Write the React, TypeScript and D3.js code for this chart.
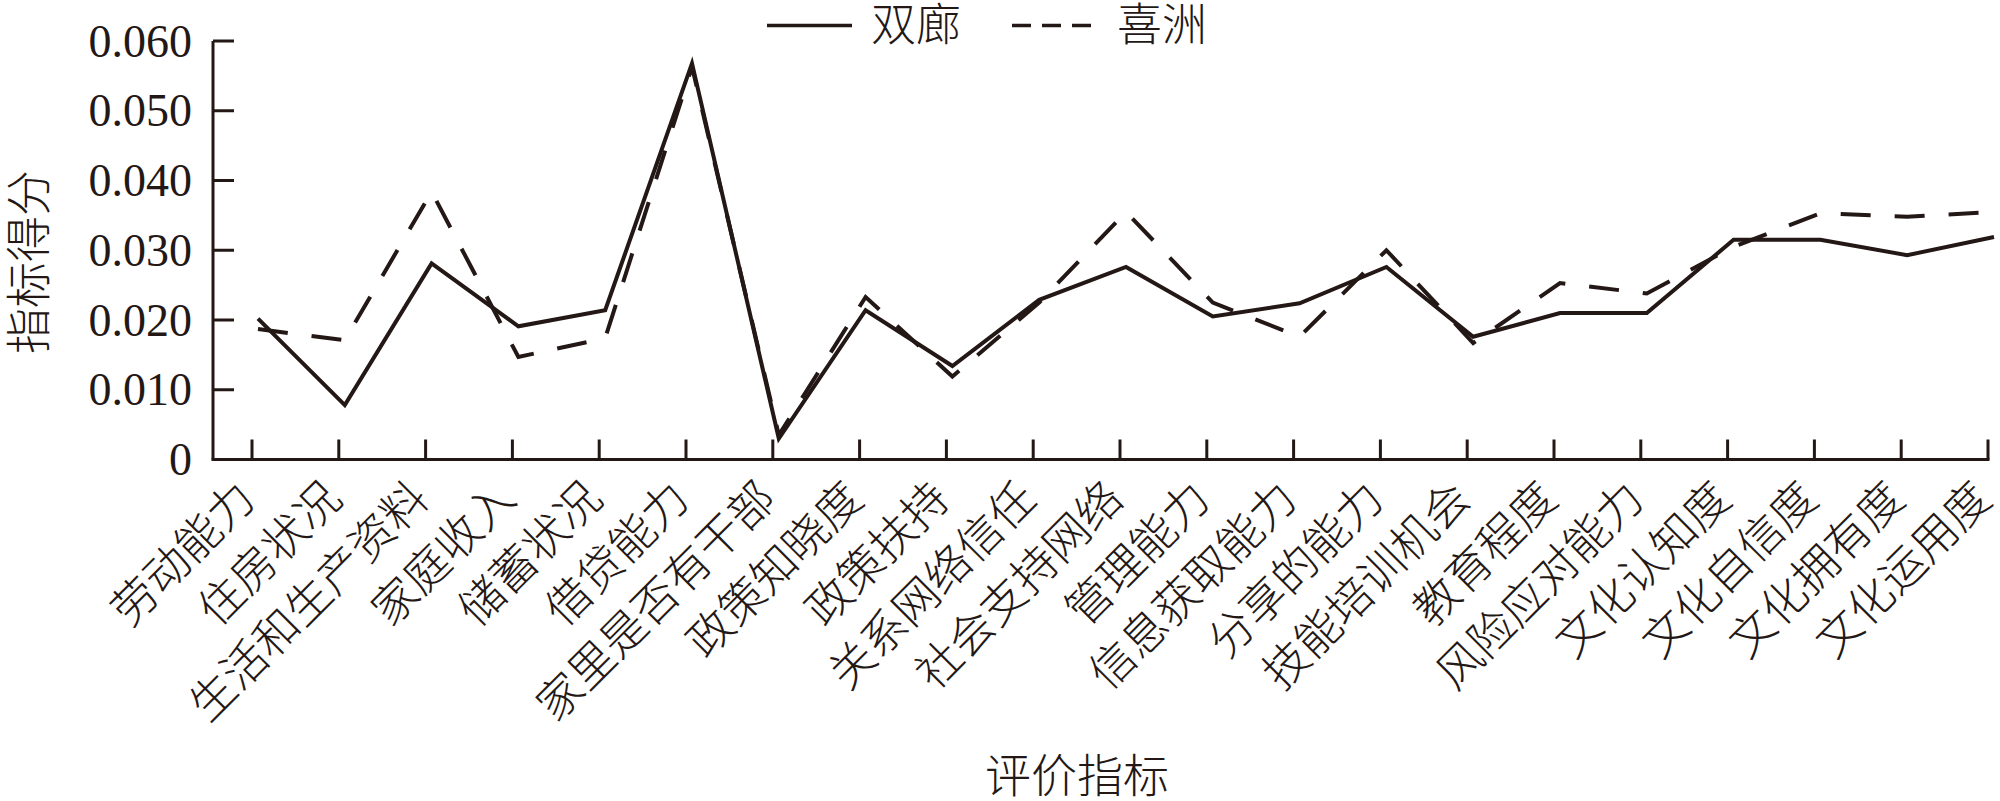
import React from "react";
import * as d3 from "d3";

const categories = ["劳动能力","住房状况","生活和生产资料","家庭收入","储蓄状况","借贷能力","家里是否有干部","政策知晓度","政策扶持","关系网络信任","社会支持网络","管理能力","信息获取能力","分享的能力","技能培训机会","教育程度","风险应对能力","文化认知度","文化自信度","文化拥有度","文化运用度"];
const shuanglang = [0.0202,0.0078,0.0281,0.0191,0.0214,0.0568,0.0030,0.0214,0.0134,0.0229,0.0276,0.0205,0.0224,0.0276,0.0176,0.0210,0.0210,0.0315,0.0315,0.0293,0.0319];
const xizhou = [0.0187,0.0171,0.0384,0.0147,0.0174,0.0563,0.0035,0.0233,0.0119,0.0225,0.0355,0.0225,0.0176,0.0300,0.0167,0.0253,0.0238,0.0305,0.0353,0.0348,0.0355];
const yTicks = [0, 0.01, 0.02, 0.03, 0.04, 0.05, 0.06];
const yTickLabels = ["0","0.010","0.020","0.030","0.040","0.050","0.060"];
const seriesNames = ["双廊","喜洲"];

const INK = "#231815";
const FONT = "'Liberation Serif', 'Noto Sans CJK SC', serif";

export default function App() {
  const W = 2000, H = 801;
  const axisX = 213;
  const x = d3.scalePoint<string>().domain(categories).range([252, 1988]);
  const y = d3.scaleLinear().domain([0, 0.06]).range([459.5, 41]);
  const pointShift = 6;
  const line = d3.line<number>()
    .x((_, i) => (x(categories[i]) as number) + pointShift)
    .y((d) => y(d));

  return (
    <svg width={W} height={H} style={{ position: "absolute", left: 0, top: 0, background: "#fff" }} fontFamily={FONT}>
      <rect width={W} height={H} fill="#fff" />
      {/* legend */}
      <line x1={767} x2={852} y1={25.5} y2={25.5} stroke={INK} strokeWidth={3.5} />
      <text x={871} y={26} fontSize={45} fontWeight={300} fill={INK} dominantBaseline="central">{seriesNames[0]}</text>
      <line x1={1012} x2={1092} y1={25.5} y2={25.5} stroke={INK} strokeWidth={3.5} strokeDasharray="19 11" />
      <text x={1117} y={26} fontSize={45} fontWeight={300} fill={INK} dominantBaseline="central">{seriesNames[1]}</text>

      {/* axes */}
      <line x1={axisX} x2={axisX} y1={y(0.06)} y2={y(0)} stroke={INK} strokeWidth={3} />
      <line x1={axisX - 1.5} x2={x(categories[categories.length - 1]) as number + 1.5} y1={y(0)} y2={y(0)} stroke={INK} strokeWidth={3} />
      {yTicks.map((t, i) => (
        <g key={"yt" + i}>
          {t > 0 && <line x1={axisX} x2={axisX + 21} y1={y(t)} y2={y(t)} stroke={INK} strokeWidth={3} />}
          <text x={192} y={y(t)} fontSize={46} fill={INK} textAnchor="end" dominantBaseline="central">{yTickLabels[i]}</text>
        </g>
      ))}
      {categories.map((c) => (
        <g key={c}>
          <line x1={x(c)} x2={x(c)} y1={y(0)} y2={y(0) - 20} stroke={INK} strokeWidth={3} />
          <text
            transform={`translate(${(x(c) as number) - 5},${y(0) + 31}) rotate(-45)`}
            fontSize={45}
            fontWeight={300}
            fill={INK}
            textAnchor="end"
            dominantBaseline="central"
          >{c}</text>
        </g>
      ))}

      {/* series */}
      <path d={line(shuanglang) || ""} fill="none" stroke={INK} strokeWidth={4} strokeLinejoin="miter" />
      <path d={line(xizhou) || ""} fill="none" stroke={INK} strokeWidth={4} strokeDasharray="30 24" strokeLinejoin="miter" />

      {/* titles */}
      <text transform={`translate(29,262) rotate(-90)`} fontSize={46} fontWeight={300} fill={INK} textAnchor="middle" dominantBaseline="central">指标得分</text>
      <text x={1077} y={776} fontSize={46} fontWeight={300} fill={INK} textAnchor="middle" dominantBaseline="central">评价指标</text>
    </svg>
  );
}
